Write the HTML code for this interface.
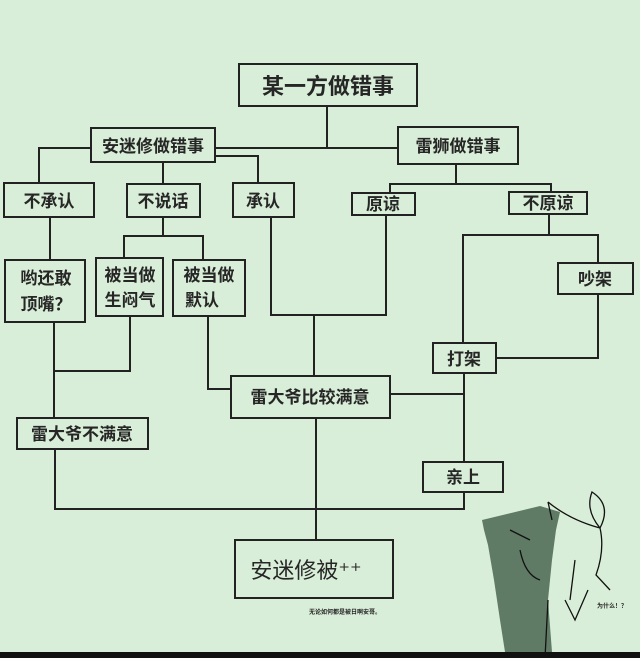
<!DOCTYPE html>
<html><head><meta charset="utf-8"><style>
html,body{margin:0;padding:0;background:#d9eed8;}
svg{display:block}
text{font-family:"Liberation Sans","Noto Sans CJK SC",sans-serif;fill:#262626;}
</style></head><body>
<svg width="640" height="658" viewBox="0 0 640 658" xmlns="http://www.w3.org/2000/svg">
<rect width="640" height="658" fill="#d9eed8"/>
<g fill="none" stroke="#222" stroke-width="2">
<line x1="327" y1="107" x2="327" y2="148"/>
<line x1="215" y1="148" x2="398" y2="148"/>
<polyline points="91,148 39,148 39,183"/>
<polyline points="215,156 258,156 258,183"/>
<line x1="163" y1="162" x2="163" y2="184"/>
<line x1="456" y1="164" x2="456" y2="184"/>
<polyline points="390,193 390,184 551,184 551,192"/>
<line x1="50" y1="217" x2="50" y2="260"/>
<line x1="163" y1="217" x2="163" y2="236"/>
<polyline points="124,258 124,236 203,236 203,260"/>
<polyline points="271,217 271,315 386,315 386,215"/>
<line x1="314" y1="315" x2="314" y2="376"/>
<line x1="549" y1="214" x2="549" y2="235"/>
<polyline points="463,343 463,235 598,235 598,263"/>
<polyline points="598,294 598,358 496,358"/>
<line x1="390" y1="394" x2="464" y2="394"/>
<line x1="464" y1="373" x2="464" y2="462"/>
<polyline points="464,492 464,509 55,509 55,449"/>
<line x1="54" y1="322" x2="54" y2="418"/>
<polyline points="130,316 130,371 54,371"/>
<polyline points="208,316 208,389 231,389"/>
<line x1="316" y1="418" x2="316" y2="540"/>
<rect x="239" y="64" width="178" height="42"/>
<rect x="91" y="128" width="124" height="34"/>
<rect x="398" y="127" width="120" height="37"/>
<rect x="4" y="183" width="90" height="34"/>
<rect x="127" y="184" width="73" height="33"/>
<rect x="233" y="183" width="61" height="34"/>
<rect x="352" y="193" width="63" height="22"/>
<rect x="509" y="192" width="78" height="22"/>
<rect x="5" y="260" width="80" height="62"/>
<rect x="96" y="258" width="67" height="58"/>
<rect x="173" y="260" width="72" height="56"/>
<rect x="558" y="263" width="75" height="31"/>
<rect x="433" y="343" width="63" height="30"/>
<rect x="231" y="376" width="159" height="42"/>
<rect x="17" y="418" width="131" height="31"/>
<rect x="423" y="462" width="80" height="30"/>
<rect x="235" y="540" width="158" height="58"/>
</g>
<g font-size="17" text-anchor="middle" font-weight="bold">
<text x="328" y="94" font-size="22">某一方做错事</text>
<text x="153" y="152">安迷修做错事</text>
<text x="458" y="152">雷狮做错事</text>
<text x="49" y="207">不承认</text>
<text x="163" y="207">不说话</text>
<text x="263" y="207">承认</text>
<text x="383" y="210">原谅</text>
<text x="548" y="209">不原谅</text>
<text x="46" y="284">哟还敢</text>
<text x="46" y="310">顶嘴？</text>
<text x="130" y="281">被当做</text>
<text x="130" y="306">生闷气</text>
<text x="209" y="281">被当做</text>
<text x="202" y="306">默认</text>
<text x="595" y="285">吵架</text>
<text x="464" y="365">打架</text>
<text x="310" y="403">雷大爷比较满意</text>
<text x="82" y="440">雷大爷不满意</text>
<text x="463" y="483">亲上</text>
<text x="306" y="578" font-size="22" font-weight="normal">安迷修被⁺⁺</text>
<text x="345" y="614" font-size="6">无论如何都是被日啊安哥。</text>
<text x="612" y="608" font-size="6">为什么！？</text>
</g>
<polygon points="482,520 540,506 560,512 556,530 552,560 548,600 552,652 505,652 500,620 494,580 488,545 484,530" fill="#5f7b65"/>
<g fill="none" stroke="#111" stroke-width="1.3">
<path d="M548,502 Q570,520 600,528 Q612,505 592,492 Q585,510 600,528 Q605,550 596,575 L610,590"/>
<path d="M548,502 L552,520 M510,530 L530,540 M520,550 Q525,575 540,580 M575,560 L570,600 M548,600 L545,658 M565,600 L575,620 L588,590"/>
</g>
<rect x="0" y="652" width="640" height="6" fill="#111"/>
</svg>
</body></html>
